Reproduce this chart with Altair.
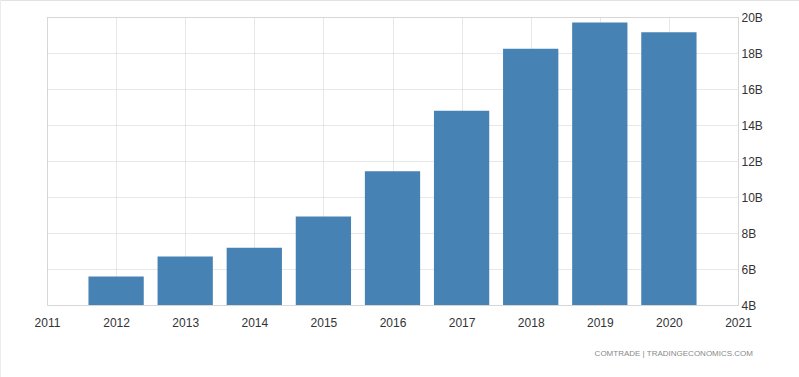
import altair as alt
import pandas as pd

years = [2012, 2013, 2014, 2015, 2016, 2017, 2018, 2019, 2020]
values_b = [5.58, 6.70, 7.18, 8.91, 11.43, 14.79, 18.23, 19.69, 19.15]
x_ticks = list(range(2011, 2022))
y_ticks = [4, 6, 8, 10, 12, 14, 16, 18, 20]
source = "COMTRADE | TRADINGECONOMICS.COM"

df = pd.DataFrame({"year": years, "value": values_b})

FONT = "Liberation Sans"
GRID = "#d0d0d0"

bars = alt.Chart(df).transform_calculate(
    xs="datum.year - 0.4", xe="datum.year + 0.4"
).mark_bar(color="#4682b4").encode(
    x=alt.X("xs:Q",
            scale=alt.Scale(domain=[2011, 2021], nice=False, zero=False),
            axis=alt.Axis(values=x_ticks, format="d", title=None, orient="bottom",
                          ticks=False, domain=False, grid=True, gridColor=GRID,
                          gridDash=[1, 1], labelFont=FONT, labelFontSize=12,
                          labelFlush=False,
                          labelColor="#333333", labelPadding=12)),
    x2="xe:Q",
    y=alt.Y("value:Q",
            scale=alt.Scale(domain=[4, 20], nice=False, zero=False),
            axis=alt.Axis(values=y_ticks, labelExpr="datum.value + 'B'", title=None,
                          orient="right", ticks=False, domain=False, grid=True,
                          gridColor=GRID, gridDash=[1, 1], labelFont=FONT,
                          labelFlush=False,
                          labelFontSize=12, labelColor="#333333", labelPadding=3)),
    y2=alt.datum(4),
)

src = alt.Chart(pd.DataFrame({"t": [source]})).mark_text(
    align="right", baseline="middle", font=FONT, fontSize=8, color="#8a8a8a"
).encode(x=alt.value(706), y=alt.value(337), text="t:N")

top_line = alt.Chart(pd.DataFrame({"a": [0]})).mark_rule(
    color="#e2e2e2", strokeWidth=1
).encode(x=alt.value(-47), x2=alt.value(752), y=alt.value(-16.5))

left_line = alt.Chart(pd.DataFrame({"a": [0]})).mark_rule(
    color="#ececec", strokeWidth=1
).encode(x=alt.value(-46.5), y=alt.value(-17), y2=alt.value(360))

chart = alt.layer(bars, src, top_line, left_line).properties(
    width=691, height=288,
    autosize=alt.AutoSizeParams(type="none"),
    padding={"left": 47, "top": 17, "right": 61, "bottom": 72},
).configure_view(stroke=None).configure(background="white")

chart.save("out.html", embed_options={"renderer": "svg", "actions": False})
